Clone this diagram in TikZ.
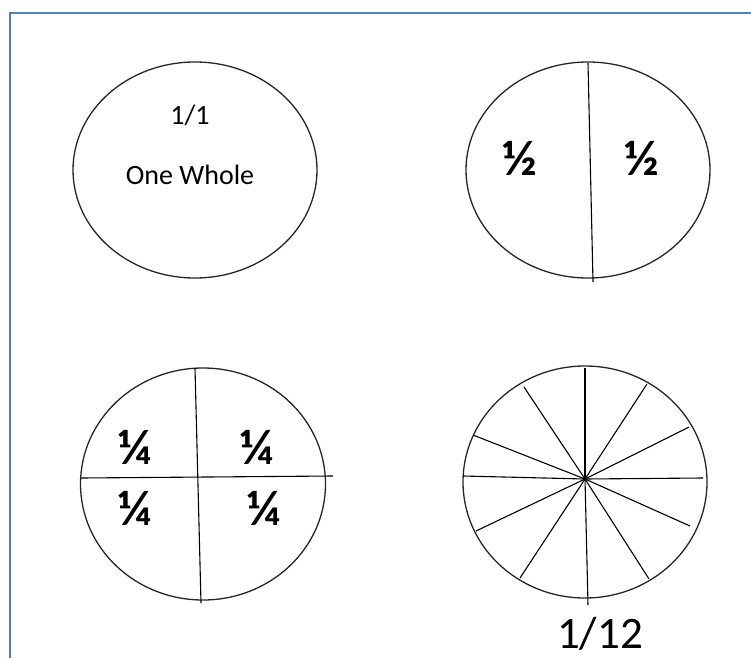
\documentclass[tikz,border=0pt]{standalone}
\usepackage{fontspec}
\setmainfont{Carlito}
\definecolor{frameblue}{RGB}{79,129,189}
\usetikzlibrary{calc}

\begin{document}
\begin{tikzpicture}[x=1pt,y=-1pt,
  fracrim/.style={draw=black!85,line width=1.3pt},
  fraccut/.style={draw=black,line width=1.1pt},
  fraclbl/.style={font=\fontsize{50}{50}\selectfont\bfseries,inner sep=0pt},
  wholelbl/.style={font=\fontsize{28}{28}\selectfont,inner sep=0pt}
]
  \useasboundingbox (0,0) rectangle (751,658);
  % Frame
  \draw[frameblue,line width=2.2pt] (10,658) -- (10,13) -- (751,13);
  % One whole
  \coordinate (whole) at (195,170);
  \draw[fracrim] (whole) ellipse [x radius=122,y radius=108];
  \node[wholelbl] (wtop) at (190,115) {1/1};
  \node[wholelbl] (wname) at (190,175) {One Whole};
  % Halves
  \coordinate (half) at (588,170);
  \draw[fracrim] (half) ellipse [x radius=122,y radius=108];
  \coordinate (htop) at (588,63);
  \coordinate (hbot) at (593,282);
  \draw[fraccut] (htop) -- (hbot);
  \node[fraclbl] (hleft) at (520,158) {½};
  \node[fraclbl] (hright) at (642,158) {½};
  % Quarters
  \coordinate (quart) at (203,484);
  \draw[fracrim] (quart) ellipse [x radius=122.5,y radius=116];
  \coordinate (qtop) at (195,368);
  \coordinate (qbot) at (201,603);
  \coordinate (qleft) at (81,478);
  \coordinate (qright) at (333,476);
  \draw[fraccut] (qtop) -- (qbot);
  \draw[fraccut] (qleft) -- (qright);
  \node[fraclbl] (q1) at (135,447) {¼};
  \node[fraclbl] (q2) at (257,447) {¼};
  \node[fraclbl] (q3) at (135,508) {¼};
  \node[fraclbl] (q4) at (264,508) {¼};
  % Twelfths
  \coordinate (twelve) at (585,482);
  \draw[fracrim] (twelve) ellipse [x radius=122,y radius=116];
  \coordinate (hub) at (585,479);
  \foreach \px/\py [count=\i] in {585/368,647/384,689/427,703/478,690/526,649/579,
    588/605,520/578,476/531,463/476,473/435,524/387}{
    \coordinate (s\i) at (\px,\py);
    \draw[fraccut] (hub) -- (s\i);
  }
  \node[font=\fontsize{45}{45}\selectfont,inner sep=0pt,anchor=base] (tname) at (600,648) {1/12};
\end{tikzpicture}
\end{document}
